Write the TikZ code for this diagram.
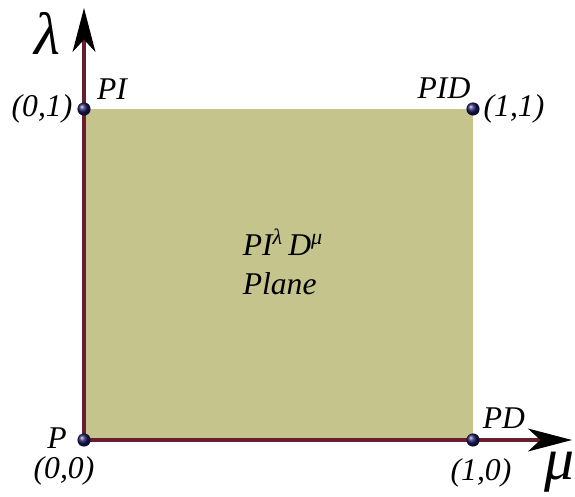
\documentclass[tikz,border=0pt]{standalone}
\usepackage{fontspec}
\setmainfont{Liberation Serif}
\usepackage{xcolor}
\usepackage{tikz}
\usetikzlibrary{positioning,arrows.meta,shadings}

\definecolor{planefill}{RGB}{196,196,140}
\definecolor{axisred}{RGB}{105,30,45}
\definecolor{dotblue}{RGB}{25,25,95}

\begin{document}
\begin{tikzpicture}[
    x=0.02cm, y=-0.02cm,
    plane/.style={fill=planefill},
    axis/.style={draw=axisred, line width=1.8pt, -{Stealth[length=25pt, width=13pt, inset=7pt, black]}},
    dot/.style={circle, inner sep=0pt, minimum size=7.5pt, shading=ball, ball color=dotblue},
    ctrl/.style={font=\fontsize{18}{22}\selectfont\itshape, inner sep=0pt, anchor=base},
    coordlab/.style={font=\fontsize{18}{22}\selectfont\itshape, inner sep=0pt},
    axlabel/.style={font=\fontsize{34}{40}\selectfont\itshape, inner sep=0pt},
]
\useasboundingbox (0,0) rectangle (575,497);

% corners of the plane
\coordinate (o) at (84,440);
\coordinate (c11) at (473,109);
\coordinate (c01) at (84,109);
\coordinate (c10) at (473,440);
\coordinate (ytip) at (84,8);
\coordinate (xtip) at (572,440);

\fill[plane] (o) rectangle (c11);
\draw[axis] (o) -- (ytip);
\draw[axis] (o) -- (xtip);

\node[dot] (p) at (o) {};
\node[dot] (pi) at (c01) {};
\node[dot] (pid) at (c11) {};
\node[dot] (pd) at (c10) {};

\node[axlabel] (lam) at (47,33) {λ};
\node[axlabel] (mu) at (559,472) {μ};

\node[ctrl] (pilab) at (112,99) {PI};
\node[coordlab] (pipos) at (42,109) {(0,1)};
\node[ctrl] (pidlab) at (444,98) {PID};
\node[coordlab] (pidpos) at (514,109) {(1,1)};
\node[ctrl] (plab) at (57,448) {P};
\node[coordlab] (ppos) at (64,471) {(0,0)};
\node[ctrl] (pdlab) at (504,428) {PD};
\node[coordlab] (pdpos) at (481,473) {(1,0)};

\node[ctrl, align=left, anchor=center] (title) at (283,262) {PI\textsuperscript{λ}\,D\textsuperscript{μ}\\Plane};
\end{tikzpicture}
\end{document}
